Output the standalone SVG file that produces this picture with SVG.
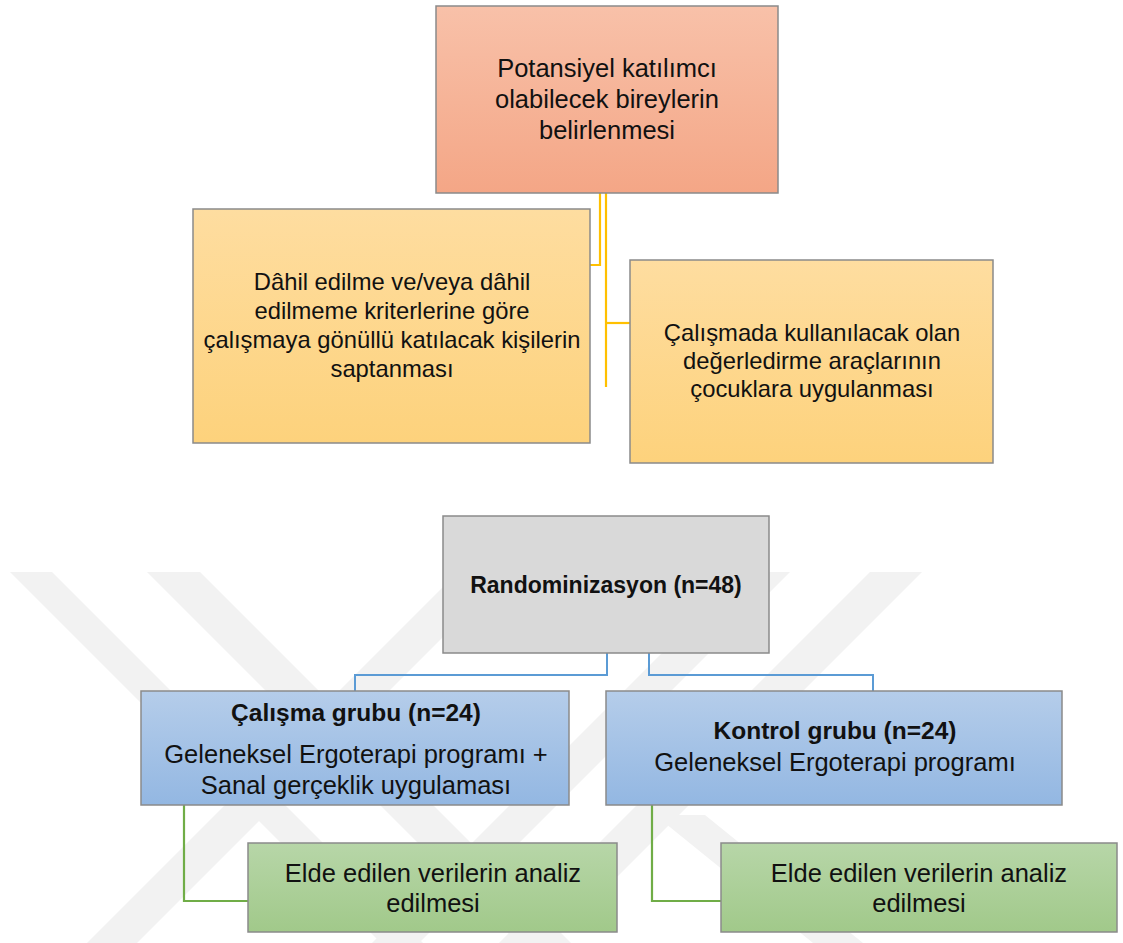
<svg xmlns="http://www.w3.org/2000/svg" width="1123" height="943" viewBox="0 0 1123 943">
<defs>
<linearGradient id="gOrange" x1="0" y1="0" x2="0" y2="1"><stop offset="0" stop-color="#f8c1a9"/><stop offset="1" stop-color="#f4a686"/></linearGradient>
<linearGradient id="gYellow" x1="0" y1="0" x2="0" y2="1"><stop offset="0" stop-color="#feddA0"/><stop offset="1" stop-color="#fdd27c"/></linearGradient>
<linearGradient id="gBlue" x1="0" y1="0" x2="0" y2="1"><stop offset="0" stop-color="#b5cdea"/><stop offset="1" stop-color="#93b7e2"/></linearGradient>
<linearGradient id="gGreen" x1="0" y1="0" x2="0" y2="1"><stop offset="0" stop-color="#b7d6a8"/><stop offset="1" stop-color="#a1c98a"/></linearGradient>
<clipPath id="wm"><rect x="0" y="572" width="1123" height="371"/></clipPath>
</defs>
<style>
.box{stroke:#8a8a8a;stroke-width:1.5}
.t{font-family:"Liberation Sans",Arial,sans-serif;fill:#111;text-anchor:middle}
.r26{font-size:25.5px}
.r24{font-size:23.8px}
.b{font-weight:bold;font-size:23px}
.b24{font-weight:bold;font-size:24.5px}
.cy{fill:none;stroke:#ffc000;stroke-width:2.2}
.cb{fill:none;stroke:#5b9bd5;stroke-width:2}
.cg{fill:none;stroke:#70ad47;stroke-width:2.2}
.w{fill:#f2f2f2}
</style>
<rect width="1123" height="943" fill="#ffffff"/>
<g id="watermark" clip-path="url(#wm)">
<polygon class="w" points="10,572 52,572 423,943 381,943"/>
<polygon class="w" points="147,572 200,572 571,943 518,943"/>
<polygon class="w" points="458,572 508,572 137,943 87,943"/>
<polygon class="w" points="743,572 790,572 419,943 372,943"/>
<polygon class="w" points="870,572 922,572 551,943 499,943"/>
<polygon class="w" points="655,815 705,815 863,943 813,943"/>
</g>
<g id="connectors">
<path class="cy" d="M600,193 V265 H590"/>
<path class="cy" d="M606,193 V387"/>
<path class="cy" d="M606,323 H630"/>
<path class="cb" d="M607,653 V675 H355 V691"/>
<path class="cb" d="M649,653 V675 H873 V691"/>
<path class="cg" d="M184,805 V901 H248"/>
<path class="cg" d="M652,805 V901 H721"/>
</g>
<g id="n1">
<rect class="box" x="436" y="6" width="342" height="187" fill="url(#gOrange)"/>
<text class="t r26" x="607" y="77">Potansiyel katılımcı</text>
<text class="t r26" x="607" y="108">olabilecek bireylerin</text>
<text class="t r26" x="607" y="139">belirlenmesi</text>
</g>
<g id="n2">
<rect class="box" x="193" y="209" width="397" height="234" fill="url(#gYellow)"/>
<text class="t r24" x="392" y="290">Dâhil edilme ve/veya dâhil</text>
<text class="t r24" x="392" y="319">edilmeme kriterlerine göre</text>
<text class="t r24" x="392" y="348">çalışmaya gönüllü katılacak kişilerin</text>
<text class="t r24" x="392" y="377">saptanması</text>
</g>
<g id="n3">
<rect class="box" x="630" y="260" width="363" height="203" fill="url(#gYellow)"/>
<text class="t r24" x="812" y="341">Çalışmada kullanılacak olan</text>
<text class="t r24" x="812" y="369">değerledirme araçlarının</text>
<text class="t r24" x="812" y="397">çocuklara uygulanması</text>
</g>
<g id="n4">
<rect class="box" x="443" y="516" width="326" height="137" fill="#d9d9d9"/>
<text class="t b" x="606" y="593">Randominizasyon (n=48)</text>
</g>
<g id="n5">
<rect class="box" x="141" y="691" width="428" height="114" fill="url(#gBlue)"/>
<text class="t b24" x="356" y="721">Çalışma grubu (n=24)</text>
<text class="t r26" x="356" y="763">Geleneksel Ergoterapi programı +</text>
<text class="t r26" x="356" y="794">Sanal gerçeklik uygulaması</text>
</g>
<g id="n6">
<rect class="box" x="606" y="691" width="456" height="114" fill="url(#gBlue)"/>
<text class="t b24" x="835" y="739">Kontrol grubu (n=24)</text>
<text class="t r26" x="835" y="771">Geleneksel Ergoterapi programı</text>
</g>
<g id="n7">
<rect class="box" x="248" y="843" width="369" height="89" fill="url(#gGreen)"/>
<text class="t r26" x="433" y="882">Elde edilen verilerin analiz</text>
<text class="t r26" x="433" y="912">edilmesi</text>
</g>
<g id="n8">
<rect class="box" x="721" y="843" width="396" height="89" fill="url(#gGreen)"/>
<text class="t r26" x="919" y="882">Elde edilen verilerin analiz</text>
<text class="t r26" x="919" y="912">edilmesi</text>
</g>
</svg>
